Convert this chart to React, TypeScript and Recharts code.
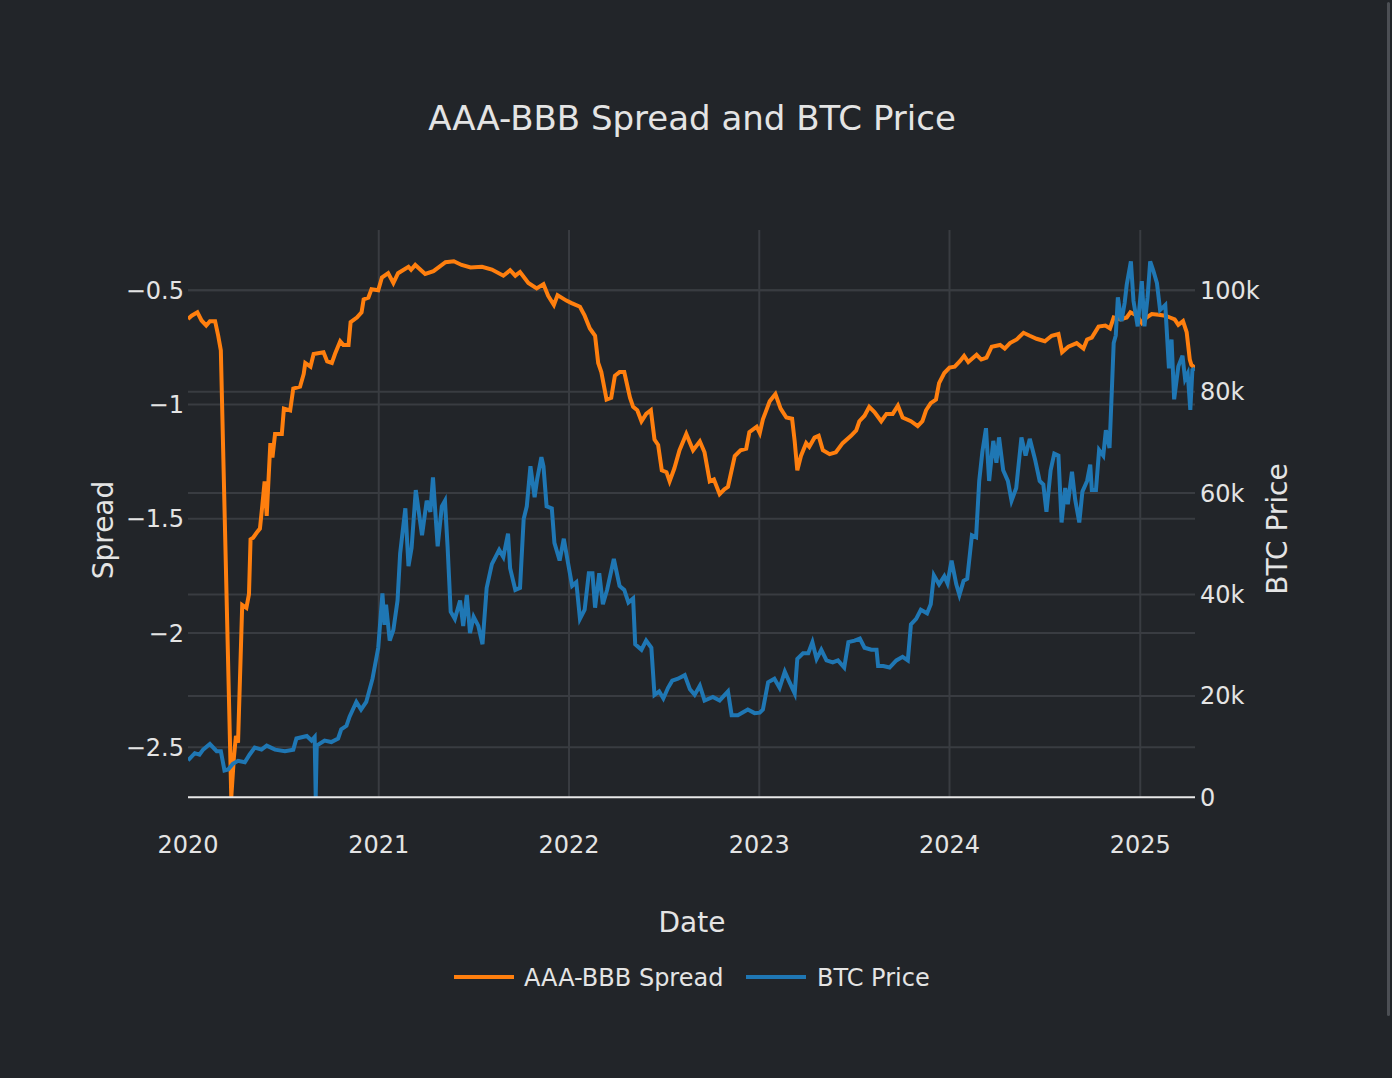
import { ComposedChart, Line, XAxis, YAxis, ReferenceLine } from "recharts";

// AAA-BBB spread (date, value)
const spreadPoints: [string, number][] = [
  ["2020-01-01", -0.625], ["2020-01-08", -0.611], ["2020-01-19", -0.596], ["2020-01-27", -0.632],
  ["2020-02-05", -0.654], ["2020-02-12", -0.635], ["2020-02-22", -0.635], ["2020-02-28", -0.699],
  ["2020-03-04", -0.763], ["2020-03-24", -2.72], ["2020-03-29", -2.546], ["2020-04-02", -2.45],
  ["2020-04-06", -2.48], ["2020-04-14", -1.877], ["2020-04-22", -1.89], ["2020-04-27", -1.83],
  ["2020-04-30", -1.59], ["2020-05-05", -1.583], ["2020-05-12", -1.56], ["2020-05-18", -1.543],
  ["2020-05-22", -1.455], ["2020-05-27", -1.336], ["2020-05-31", -1.487], ["2020-06-07", -1.169],
  ["2020-06-11", -1.232], ["2020-06-16", -1.129], ["2020-06-29", -1.129], ["2020-07-03", -1.018],
  ["2020-07-15", -1.026], ["2020-07-21", -0.93], ["2020-08-03", -0.922], ["2020-08-10", -0.866],
  ["2020-08-13", -0.818], ["2020-08-23", -0.834], ["2020-08-29", -0.779], ["2020-09-17", -0.771],
  ["2020-09-24", -0.811], ["2020-10-03", -0.818], ["2020-10-09", -0.779], ["2020-10-19", -0.723],
  ["2020-10-25", -0.739], ["2020-11-04", -0.739], ["2020-11-08", -0.639], ["2020-11-20", -0.619],
  ["2020-11-29", -0.596], ["2020-12-03", -0.54], ["2020-12-12", -0.532], ["2020-12-18", -0.495],
  ["2020-12-31", -0.5], ["2021-01-07", -0.444], ["2021-01-19", -0.425], ["2021-01-29", -0.468],
  ["2021-02-07", -0.425], ["2021-02-27", -0.397], ["2021-03-04", -0.41], ["2021-03-12", -0.389],
  ["2021-03-31", -0.428], ["2021-04-16", -0.416], ["2021-05-09", -0.377], ["2021-05-25", -0.373],
  ["2021-06-09", -0.389], ["2021-06-26", -0.4], ["2021-07-18", -0.397], ["2021-08-06", -0.409],
  ["2021-08-28", -0.436], ["2021-09-10", -0.412], ["2021-09-20", -0.436], ["2021-09-29", -0.42],
  ["2021-10-15", -0.468], ["2021-10-31", -0.492], ["2021-11-13", -0.473], ["2021-11-22", -0.524],
  ["2021-12-03", -0.564], ["2021-12-10", -0.521], ["2021-12-27", -0.545], ["2022-01-06", -0.556],
  ["2022-01-22", -0.572], ["2022-01-31", -0.611], ["2022-02-10", -0.667], ["2022-02-20", -0.699],
  ["2022-02-26", -0.818], ["2022-03-04", -0.858], ["2022-03-14", -0.978], ["2022-03-23", -0.97],
  ["2022-03-30", -0.874], ["2022-04-08", -0.858], ["2022-04-17", -0.858], ["2022-04-28", -0.97],
  ["2022-05-04", -1.01], ["2022-05-12", -1.025], ["2022-05-20", -1.073], ["2022-05-29", -1.041],
  ["2022-06-07", -1.025], ["2022-06-14", -1.153], ["2022-06-21", -1.177], ["2022-06-28", -1.288],
  ["2022-07-07", -1.296], ["2022-07-13", -1.336], ["2022-07-22", -1.28], ["2022-08-01", -1.2],
  ["2022-08-14", -1.129], ["2022-08-27", -1.2], ["2022-09-09", -1.161], ["2022-09-18", -1.209],
  ["2022-09-28", -1.336], ["2022-10-06", -1.328], ["2022-10-17", -1.392], ["2022-10-26", -1.371],
  ["2022-11-02", -1.36], ["2022-11-15", -1.225], ["2022-11-26", -1.2], ["2022-12-07", -1.193],
  ["2022-12-13", -1.121], ["2022-12-27", -1.097], ["2023-01-02", -1.125], ["2023-01-08", -1.065],
  ["2023-01-21", -0.986], ["2023-02-01", -0.954], ["2023-02-11", -1.018], ["2023-02-22", -1.057],
  ["2023-03-05", -1.062], ["2023-03-10", -1.161], ["2023-03-15", -1.288], ["2023-03-22", -1.225],
  ["2023-04-01", -1.169], ["2023-04-07", -1.185], ["2023-04-17", -1.145], ["2023-04-25", -1.137],
  ["2023-05-03", -1.2], ["2023-05-16", -1.217], ["2023-05-28", -1.209], ["2023-06-10", -1.169],
  ["2023-06-26", -1.137], ["2023-07-06", -1.113], ["2023-07-12", -1.073], ["2023-07-22", -1.049],
  ["2023-07-31", -1.01], ["2023-08-10", -1.033], ["2023-08-23", -1.073], ["2023-09-02", -1.041],
  ["2023-09-14", -1.041], ["2023-09-24", -1.005], ["2023-10-03", -1.057], ["2023-10-19", -1.073],
  ["2023-11-01", -1.094], ["2023-11-10", -1.073], ["2023-11-17", -1.025], ["2023-11-26", -0.994],
  ["2023-12-06", -0.978], ["2023-12-12", -0.906], ["2023-12-22", -0.862], ["2024-01-01", -0.838],
  ["2024-01-11", -0.834], ["2024-01-21", -0.81], ["2024-01-29", -0.787], ["2024-02-06", -0.814],
  ["2024-02-22", -0.782], ["2024-03-02", -0.803], ["2024-03-12", -0.795], ["2024-03-22", -0.747],
  ["2024-04-07", -0.739], ["2024-04-16", -0.755], ["2024-04-26", -0.731], ["2024-05-09", -0.715],
  ["2024-05-22", -0.686], ["2024-06-03", -0.699], ["2024-06-16", -0.712], ["2024-07-02", -0.723],
  ["2024-07-15", -0.699], ["2024-07-28", -0.691], ["2024-08-04", -0.771], ["2024-08-16", -0.747],
  ["2024-09-01", -0.731], ["2024-09-14", -0.755], ["2024-09-21", -0.715], ["2024-09-30", -0.707],
  ["2024-10-13", -0.659], ["2024-10-26", -0.654], ["2024-11-04", -0.667], ["2024-11-11", -0.619],
  ["2024-11-24", -0.627], ["2024-12-06", -0.619], ["2024-12-13", -0.596], ["2024-12-26", -0.611],
  ["2025-01-04", -0.643], ["2025-01-13", -0.619], ["2025-01-23", -0.604], ["2025-02-05", -0.607],
  ["2025-02-18", -0.611], ["2025-02-27", -0.619], ["2025-03-08", -0.627], ["2025-03-15", -0.651],
  ["2025-03-24", -0.635], ["2025-03-31", -0.683], ["2025-04-06", -0.803], ["2025-04-09", -0.826],
  ["2025-04-16", -0.84],
];

// BTC price in thousands of USD
const btcPoints: [string, number][] = [
  ["2020-01-01", 7.3], ["2020-01-14", 8.7], ["2020-01-23", 8.4], ["2020-01-30", 9.4],
  ["2020-02-12", 10.5], ["2020-02-25", 9.1], ["2020-03-04", 9.1], ["2020-03-11", 5.3],
  ["2020-03-18", 5.5], ["2020-03-27", 6.6], ["2020-04-06", 7.2], ["2020-04-19", 6.9],
  ["2020-04-28", 8.4], ["2020-05-08", 9.8], ["2020-05-21", 9.4], ["2020-05-31", 10.2],
  ["2020-06-16", 9.4], ["2020-07-05", 9.1], ["2020-07-21", 9.4], ["2020-07-27", 11.6],
  ["2020-08-16", 12.1], ["2020-08-25", 11.2], ["2020-08-31", 11.9], ["2020-09-02", 0],
  ["2020-09-04", 10.2], ["2020-09-19", 11.2], ["2020-10-02", 10.9], ["2020-10-15", 11.6],
  ["2020-10-21", 13.4], ["2020-10-31", 14.1], ["2020-11-06", 15.9], ["2020-11-19", 18.8],
  ["2020-11-28", 17.3], ["2020-12-08", 18.8], ["2020-12-20", 23.4], ["2020-12-31", 29.5],
  ["2021-01-08", 40.2], ["2021-01-12", 34], ["2021-01-15", 38], ["2021-01-22", 30.9],
  ["2021-01-29", 33], ["2021-02-06", 38.8], ["2021-02-11", 48.1], ["2021-02-21", 57],
  ["2021-02-27", 45.6], ["2021-03-05", 49.2], ["2021-03-13", 60.6], ["2021-03-25", 51.7],
  ["2021-04-03", 58.5], ["2021-04-10", 56.3], ["2021-04-15", 63.1], ["2021-04-24", 49.5],
  ["2021-05-02", 57.4], ["2021-05-08", 58.5], ["2021-05-13", 49.5], ["2021-05-19", 36.6],
  ["2021-05-27", 35.2], ["2021-06-06", 38.8], ["2021-06-12", 33.8], ["2021-06-19", 39.9],
  ["2021-06-25", 32.4], ["2021-07-02", 35.6], ["2021-07-11", 33.8], ["2021-07-19", 30.2],
  ["2021-07-27", 41.3], ["2021-08-06", 46], ["2021-08-20", 48.8], ["2021-08-28", 47.4],
  ["2021-09-06", 52], ["2021-09-10", 45.2], ["2021-09-20", 40.9], ["2021-09-29", 41.3],
  ["2021-10-06", 54.9], ["2021-10-12", 57.4], ["2021-10-19", 65.3], ["2021-10-27", 59.2],
  ["2021-11-01", 62.8], ["2021-11-09", 67.1], ["2021-11-13", 65.3], ["2021-11-19", 57.4],
  ["2021-11-29", 57], ["2021-12-04", 50.2], ["2021-12-14", 46.7], ["2021-12-22", 51],
  ["2021-12-30", 46.3], ["2022-01-07", 41.7], ["2022-01-15", 42.4], ["2022-01-22", 35.2],
  ["2022-01-31", 37], ["2022-02-08", 44.2], ["2022-02-15", 44.2], ["2022-02-20", 37.4],
  ["2022-02-28", 44.2], ["2022-03-07", 38.1], ["2022-03-15", 40.9], ["2022-03-28", 47],
  ["2022-04-08", 41.7], ["2022-04-17", 40.9], ["2022-04-25", 38.4], ["2022-05-04", 39.2],
  ["2022-05-08", 30.2], ["2022-05-20", 29.1], ["2022-05-29", 30.9], ["2022-06-08", 29.5],
  ["2022-06-14", 20.2], ["2022-06-23", 20.9], ["2022-07-01", 19.5], ["2022-07-10", 21.6],
  ["2022-07-18", 23], ["2022-07-29", 23.4], ["2022-08-11", 24.1], ["2022-08-21", 21.3],
  ["2022-08-30", 20.2], ["2022-09-09", 22], ["2022-09-18", 19.1], ["2022-10-04", 19.8],
  ["2022-10-17", 19.1], ["2022-11-02", 20.9], ["2022-11-09", 16.2], ["2022-11-21", 16.2],
  ["2022-12-10", 17.3], ["2022-12-23", 16.6], ["2023-01-02", 16.7], ["2023-01-08", 17.3],
  ["2023-01-18", 22.7], ["2023-01-30", 23.4], ["2023-02-09", 21.6], ["2023-02-19", 24.8],
  ["2023-02-28", 22.7], ["2023-03-10", 20.5], ["2023-03-15", 27.3], ["2023-03-26", 28.4],
  ["2023-04-05", 28.4], ["2023-04-13", 30.6], ["2023-04-21", 27.3], ["2023-04-30", 29.1],
  ["2023-05-10", 27], ["2023-05-22", 26.6], ["2023-06-01", 27], ["2023-06-13", 25.6],
  ["2023-06-21", 30.6], ["2023-07-03", 30.9], ["2023-07-13", 31.3], ["2023-07-22", 29.5],
  ["2023-08-04", 29.1], ["2023-08-14", 29.1], ["2023-08-17", 25.9], ["2023-08-27", 25.9],
  ["2023-09-08", 25.6], ["2023-09-21", 27], ["2023-10-03", 27.7], ["2023-10-13", 27],
  ["2023-10-19", 34.1], ["2023-10-29", 35.2], ["2023-11-07", 37], ["2023-11-19", 36.3],
  ["2023-11-26", 38.1], ["2023-12-02", 43.8], ["2023-12-12", 42], ["2023-12-22", 43.6],
  ["2023-12-28", 42.2], ["2024-01-05", 46.7], ["2024-01-14", 42], ["2024-01-20", 39.9],
  ["2024-01-28", 42.7], ["2024-02-04", 43.1], ["2024-02-13", 51.7], ["2024-02-21", 51.3],
  ["2024-02-27", 62.4], ["2024-03-04", 68.1], ["2024-03-11", 72.8], ["2024-03-17", 62.4],
  ["2024-03-25", 70.3], ["2024-03-31", 66], ["2024-04-05", 71], ["2024-04-13", 64.5],
  ["2024-04-22", 62.4], ["2024-04-29", 58.5], ["2024-05-08", 61], ["2024-05-18", 71],
  ["2024-05-26", 67.4], ["2024-06-03", 70.7], ["2024-06-13", 66.7], ["2024-06-22", 62.4],
  ["2024-06-29", 61.7], ["2024-07-05", 56.3], ["2024-07-13", 64.5], ["2024-07-20", 67.8],
  ["2024-07-28", 67.4], ["2024-08-03", 54.2], ["2024-08-10", 61], ["2024-08-15", 57.8],
  ["2024-08-23", 64.2], ["2024-08-29", 58.8], ["2024-09-06", 54.2], ["2024-09-12", 60.3],
  ["2024-09-21", 62.4], ["2024-09-27", 65.6], ["2024-09-30", 60.6], ["2024-10-08", 60.6],
  ["2024-10-14", 68.5], ["2024-10-22", 67.4], ["2024-10-27", 72.4], ["2024-11-03", 68.9],
  ["2024-11-08", 81.7], ["2024-11-11", 89.6], ["2024-11-15", 91.1], ["2024-11-19", 98.6],
  ["2024-11-26", 93.9], ["2024-12-02", 97.5], ["2024-12-06", 101.1], ["2024-12-14", 105.7],
  ["2024-12-19", 97.9], ["2024-12-27", 92.9], ["2025-01-04", 101.8], ["2025-01-09", 92.9],
  ["2025-01-15", 98.6], ["2025-01-20", 105.7], ["2025-01-26", 103.9], ["2025-02-02", 101.4],
  ["2025-02-08", 96.1], ["2025-02-18", 97.1], ["2025-02-25", 84.6], ["2025-03-02", 90.3],
  ["2025-03-07", 78.5], ["2025-03-15", 85], ["2025-03-23", 87.1], ["2025-03-28", 82.5],
  ["2025-04-02", 83.6], ["2025-04-07", 76.4], ["2025-04-11", 84.3], ["2025-04-16", 84.6],
];

const yearTicks = [2020, 2021, 2022, 2023, 2024, 2025];
const spreadTicks = [-2.5, -2, -1.5, -1, -0.5];
const btcTicks = [0, 20000, 40000, 60000, 80000, 100000];

const BG = "#222529";
const GRID = "#393c41";
const TEXT = "#e4e4e4";
const FONT = "DejaVu Sans";

const toTs = (d: string) => Date.parse(d + "T00:00:00Z");

type Row = { ts: number; spread?: number; btc?: number };

function buildRows(): Row[] {
  const map = new Map<number, Row>();
  spreadPoints.forEach(([d, v]) => {
    const ts = toTs(d);
    map.set(ts, { ...(map.get(ts) || { ts }), spread: v });
  });
  btcPoints.forEach(([d, v]) => {
    const ts = toTs(d);
    map.set(ts, { ...(map.get(ts) || { ts }), btc: v * 1000 });
  });
  return Array.from(map.values()).sort((a, b) => a.ts - b.ts);
}

const rows = buildRows();
const xStart = toTs(spreadPoints[0][0]);
const xEnd = toTs(spreadPoints[spreadPoints.length - 1][0]);
const yearTs = yearTicks.map((y) => Date.UTC(y, 0, 1));

const fmtMinus = (v: number) => String(v).replace("-", "\u2212");
const fmtK = (v: number) => (v === 0 ? "0" : `${v / 1000}k`);

const tickStyle = { fill: TEXT, fontSize: 24, fontFamily: FONT };

export default function App() {
  return (
    <div style={{ position: "absolute", left: 0, top: 0, width: 1392, height: 1078, background: BG, overflow: "hidden" }}>
      <ComposedChart
        width={1392}
        height={1078}
        data={rows}
        margin={{ top: 230, right: 0, bottom: 220.7, left: 0 }}
      >
        <XAxis
          dataKey="ts"
          type="number"
          domain={[xStart, xEnd]}
          allowDataOverflow
          ticks={yearTs}
          interval={0}
          tickFormatter={(v: number) => String(new Date(v).getUTCFullYear())}
          height={60}
          tickSize={0}
          tickMargin={39}
          axisLine={false}
          tick={tickStyle}
        />
        <YAxis
          yAxisId="left"
          domain={[-2.719, -0.236]}
          allowDataOverflow
          ticks={spreadTicks}
          interval={0}
          tickFormatter={fmtMinus}
          width={188}
          tickSize={0}
          tickMargin={4}
          axisLine={false}
          tick={tickStyle}
        />
        <YAxis
          yAxisId="right"
          orientation="right"
          domain={[0, 111900]}
          allowDataOverflow
          ticks={btcTicks}
          interval={0}
          tickFormatter={fmtK}
          width={197}
          tickSize={0}
          tickMargin={5}
          axisLine={false}
          tick={tickStyle}
        />

        {/* grid: year lines inside the plot and both axes' tick lines */}
        {yearTs.slice(1).map((t) => (
          <ReferenceLine key={`x${t}`} yAxisId="left" x={t} stroke={GRID} strokeWidth={2} />
        ))}
        {spreadTicks.map((v) => (
          <ReferenceLine key={`l${v}`} yAxisId="left" y={v} stroke={GRID} strokeWidth={2} />
        ))}
        {btcTicks.slice(1).map((v) => (
          <ReferenceLine key={`r${v}`} yAxisId="right" y={v} stroke={GRID} strokeWidth={2} />
        ))}

        <Line
          yAxisId="left"
          dataKey="spread"
          type="linear"
          stroke="#ff7f0e"
          strokeWidth={4}
          dot={false}
          connectNulls
          isAnimationActive={false}
        />
        <Line
          yAxisId="right"
          dataKey="btc"
          type="linear"
          stroke="#1f77b4"
          strokeWidth={4}
          dot={false}
          connectNulls
          isAnimationActive={false}
        />
        <ReferenceLine yAxisId="right" y={0} stroke="#e8e8e8" strokeWidth={2} />
      </ComposedChart>

      <svg
        width={1392}
        height={1078}
        style={{ position: "absolute", left: 0, top: 0, pointerEvents: "none" }}
        fontFamily={FONT}
        fill={TEXT}
      >
        <text x={692} y={130} fontSize={34} textAnchor="middle">AAA-BBB Spread and BTC Price</text>
        <text x={692} y={932} fontSize={28} textAnchor="middle">Date</text>
        <text x={113} y={530} fontSize={28} textAnchor="middle" transform="rotate(-90 113 530)">Spread</text>
        <text x={1287} y={529} fontSize={28} textAnchor="middle" transform="rotate(-90 1287 529)">BTC Price</text>
        <line x1={454} x2={514} y1={977} y2={977} stroke="#ff7f0e" strokeWidth={4} />
        <text x={524} y={986} fontSize={24}>AAA-BBB Spread</text>
        <line x1={746} x2={806} y1={977} y2={977} stroke="#1f77b4" strokeWidth={4} />
        <text x={817} y={986} fontSize={24}>BTC Price</text>
      </svg>

      <div style={{ position: "absolute", left: 1387, top: 2, width: 3, height: 1014, borderRadius: 2, background: "#4c4f54" }} />
    </div>
  );
}
